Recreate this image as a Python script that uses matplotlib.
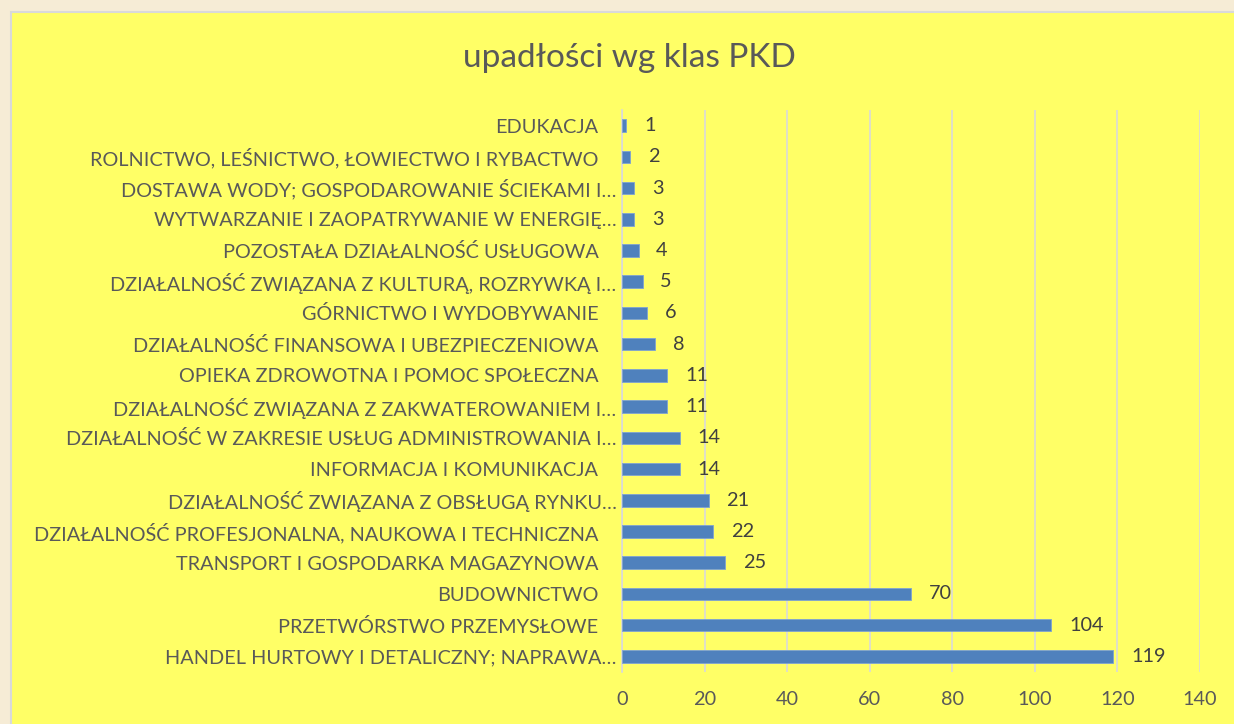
import matplotlib.pyplot as plt
from matplotlib.patches import Rectangle

# ── data ─────────────────────────────────────────────────────────────────────
categories = [
    "EDUKACJA",
    "ROLNICTWO, LEŚNICTWO, ŁOWIECTWO I RYBACTWO",
    "DOSTAWA WODY; GOSPODAROWANIE ŚCIEKAMI I…",
    "WYTWARZANIE I ZAOPATRYWANIE W ENERGIĘ…",
    "POZOSTAŁA DZIAŁALNOŚĆ USŁUGOWA",
    "DZIAŁALNOŚĆ ZWIĄZANA Z KULTURĄ, ROZRYWKĄ I…",
    "GÓRNICTWO I WYDOBYWANIE",
    "DZIAŁALNOŚĆ FINANSOWA I UBEZPIECZENIOWA",
    "OPIEKA ZDROWOTNA I POMOC SPOŁECZNA",
    "DZIAŁALNOŚĆ ZWIĄZANA Z ZAKWATEROWANIEM I…",
    "DZIAŁALNOŚĆ W ZAKRESIE USŁUG ADMINISTROWANIA I…",
    "INFORMACJA I KOMUNIKACJA",
    "DZIAŁALNOŚĆ ZWIĄZANA Z OBSŁUGĄ RYNKU…",
    "DZIAŁALNOŚĆ PROFESJONALNA, NAUKOWA I TECHNICZNA",
    "TRANSPORT I GOSPODARKA MAGAZYNOWA",
    "BUDOWNICTWO",
    "PRZETWÓRSTWO PRZEMYSŁOWE",
    "HANDEL HURTOWY I DETALICZNY; NAPRAWA…",
]
counts = [1, 2, 3, 3, 4, 5, 6, 8, 11, 11, 14, 14, 21, 22, 25, 70, 104, 119]
x_ticks = [0, 20, 40, 60, 80, 100, 120, 140]

# ── style ────────────────────────────────────────────────────────────────────
plt.rcParams["font.family"] = ["Lato", "DejaVu Sans"]
TXT = "#595959"
YELLOW = "#ffff66"
CREAM = "#f6ecd6"
BAR = "#4f81bd"
FS = 14.3

fig = plt.figure(figsize=(12.34, 7.24), dpi=100)
fig.patch.set_facecolor(CREAM)

# yellow chart area with thin grey edge
fig.add_artist(Rectangle((11 / 1234, -0.01), 1.0, 1.01 - 12 / 724,
                         transform=fig.transFigure, facecolor=YELLOW,
                         edgecolor="#d9d9d9", linewidth=1.5, zorder=0))

ax = fig.add_axes([622 / 1234, 52 / 724, (1200 - 622) / 1234, (614 - 52) / 724])
ax.set_facecolor("none")

ypos = list(range(len(categories)))
ax.barh(ypos, counts, height=0.4, color=BAR, edgecolor="#7fa3d1",
        linewidth=0.6, zorder=3)

for y, v in zip(ypos, counts):
    ax.text(v + 4.3, y, str(v), ha="left", va="center",
            fontsize=FS, color="#404040", zorder=4)

ax.set_xlim(0, 140)
ax.set_ylim(len(categories) - 0.5, -0.5)
ax.set_xticks(x_ticks)
ax.set_yticks(ypos)
ax.set_yticklabels(categories)
ax.xaxis.grid(True, color="#d9d9d9", linewidth=1.2, zorder=0)
ax.set_axisbelow(True)

for s in ("top", "right", "bottom"):
    ax.spines[s].set_visible(False)
ax.spines["left"].set_color("#d9d9d9")
ax.spines["left"].set_linewidth(1.2)

ax.tick_params(axis="x", length=0, labelsize=FS, labelcolor=TXT, pad=14)
ax.tick_params(axis="y", length=0, labelsize=FS, labelcolor=TXT)
# truncated labels sit closer to the axis than the full ones
for tick, lab in zip(ax.yaxis.get_major_ticks(), categories):
    tick.set_pad(4 if lab.endswith("…") else 17)

fig.text(629 / 1234, 1 - 58 / 724, "upadłości wg klas PKD", ha="center",
         va="center", fontsize=24, color=TXT)

fig.savefig("out.png", dpi=100, facecolor=fig.get_facecolor())
